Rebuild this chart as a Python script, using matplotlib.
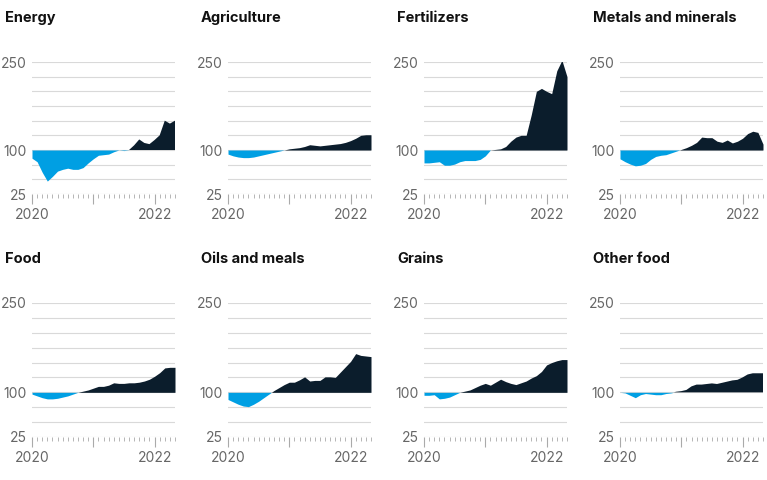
import matplotlib
matplotlib.use("Agg")
import matplotlib.pyplot as plt
import numpy as np

plt.rcParams['font.family'] = ['Inter', 'DejaVu Sans']

titles = ["Energy", "Agriculture", "Fertilizers", "Metals and minerals",
          "Food", "Oils and meals", "Grains", "Other food"]
months = list(range(29))  # Jan 2020 .. May 2022
energy = [86, 80, 62, 47, 55, 64, 67, 69, 67, 67, 70, 78, 85, 91, 92, 93, 97, 100, 99, 100, 108, 118, 112, 110, 117, 125, 150, 145, 150]
agriculture = [93, 90, 88, 87, 87, 88, 90, 92, 94, 96, 98, 100, 102, 103, 104, 106, 109, 108, 107, 108, 109, 110, 111, 113, 116, 120, 125, 126, 126]
fertilizers = [78, 78, 79, 80, 74, 74, 76, 80, 82, 82, 82, 84, 90, 100, 101, 102, 106, 115, 122, 125, 125, 160, 200, 205, 200, 196, 235, 253, 225]
metals = [85, 80, 76, 73, 74, 77, 84, 89, 91, 92, 95, 98, 101, 104, 108, 113, 122, 121, 121, 115, 113, 117, 112, 115, 120, 128, 132, 130, 110]
food = [97, 94, 91, 89, 89, 90, 92, 94, 97, 100, 102, 104, 107, 110, 110, 112, 116, 115, 115, 116, 116, 117, 119, 122, 127, 133, 141, 142, 142]
oils = [88, 84, 80, 77, 76, 80, 85, 91, 97, 103, 108, 113, 117, 117, 121, 126, 119, 120, 120, 126, 126, 125, 134, 143, 152, 165, 162, 161, 160]
grains = [95, 95, 96, 89, 90, 92, 96, 100, 102, 104, 108, 112, 115, 112, 117, 122, 118, 115, 113, 116, 119, 124, 128, 135, 146, 150, 153, 155, 155]
other = [100, 99, 95, 91, 96, 98, 97, 96, 96, 98, 99, 101, 102, 104, 110, 113, 113, 114, 115, 114, 116, 118, 120, 121, 125, 130, 132, 132, 132]
series = [energy, agriculture, fertilizers, metals, food, oils, grains, other]
yticks = [25, 100, 250]

DARK = "#0b1d2c"
BLUE = "#009fe3"
GRID = "#d9d9d9"
GREY = "#666666"

fig = plt.figure(figsize=(7.67, 4.8), dpi=100)
W, H = 767, 480
col_x = [32, 228, 424, 620]
row_top = [62, 303]
row_bot = [194, 437]
for i, (t, v) in enumerate(zip(titles, series)):
    r, c = divmod(i, 4)
    left = col_x[c] / W
    bottom = 1 - row_bot[r] / H
    height = (row_bot[r] - row_top[r]) / H
    ax = fig.add_axes([left, bottom, 143 / W, height])
    x = np.array(months)
    y = np.array(v, dtype=float)
    ax.fill_between(x, y, 100, where=y >= 100, interpolate=True, color=DARK, lw=0, zorder=3)
    ax.fill_between(x, y, 100, where=y <= 100, interpolate=True, color=BLUE, lw=0, zorder=3)
    ax.set_xlim(0, 28)
    ax.set_ylim(25, 250)
    for g in range(25, 251, 25):
        ax.axhline(g, color=GRID, lw=0.8, zorder=1)
    ax.set_yticks(yticks)
    ax.set_yticklabels([str(k) for k in yticks])
    ax.tick_params(axis='y', length=0, pad=4, labelsize=10, labelcolor=GREY)
    ax.set_xticks([0, 12, 24])
    ax.set_xticklabels(["2020", "", "2022"])
    ax.set_xticks(range(29), minor=True)
    ax.tick_params(axis='x', which='major', length=7, color="#aaaaaa", labelsize=10, labelcolor=GREY, pad=3)
    ax.tick_params(axis='x', which='minor', length=3, color="#aaaaaa")
    for s in ax.spines.values():
        s.set_visible(False)
    ax.patch.set_alpha(0)
    fig.text((col_x[c] - 27) / W, 1 - (row_top[r] - 44) / H, t, fontsize=10.5,
             fontweight='bold', color="#111111", va='center', ha='left')

fig.savefig("out.png", dpi=100)
